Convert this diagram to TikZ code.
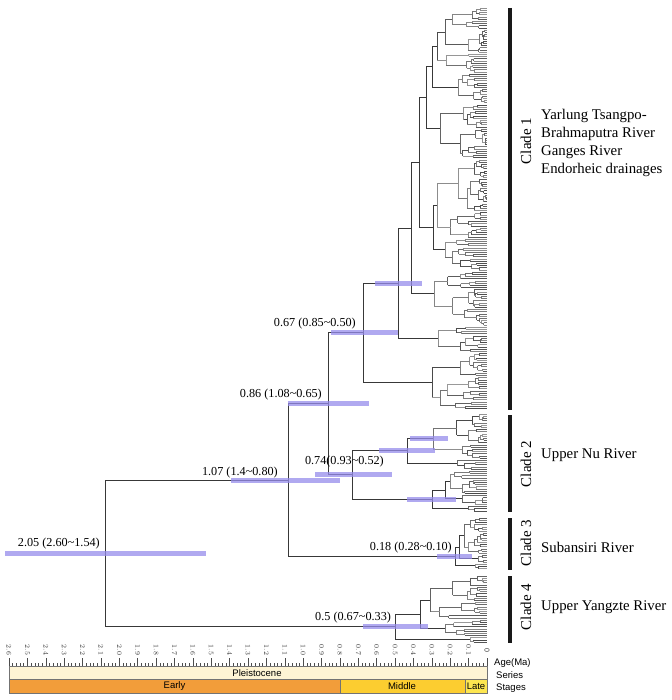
\documentclass[tikz,border=0pt]{standalone}
\usepackage{fontspec}
\setmainfont{Liberation Serif}
\newfontfamily\axfont{Liberation Sans}
\definecolor{hpdc}{RGB}{150,140,235}
\definecolor{pleist}{RGB}{254,244,212}
\definecolor{earlyc}{RGB}{242,157,58}
\definecolor{middlec}{RGB}{252,205,48}
\definecolor{latec}{RGB}{253,230,80}
\tikzset{
  br/.style={line width=0.55pt},
  bb/.style={line width=0.9pt, black!78},
  hpd/.style={line width=5pt, hpdc, opacity=0.75},
  agelbl/.style={font=\fontsize{12.2}{14}\selectfont, inner sep=0pt},
  cladebar/.style={line width=3.6pt, black!90},
  cladelbl/.style={font=\fontsize{15}{18}\selectfont, rotate=90, inner sep=0pt},
  riverlbl/.style={font=\fontsize{14.8}{18}\selectfont, anchor=west, align=left, inner sep=0pt},
  axlbl/.style={font=\axfont\fontsize{9.5}{11}\selectfont, inner sep=0pt},
  ticklbl/.style={font=\axfont\fontsize{7}{8}\selectfont, rotate=-90, inner sep=0pt, black!80},
  tickline/.style={line width=0.45pt, black!70},
  stagebox/.style={draw=black!55, line width=0.5pt}
}
% random subtree: #1 = x of root node, #2 = y of first leaf, #3 = number of leaves
\def\gclade#1#2#3{%
  \ifnum#3<2
    \xdef\cladeY{#2}%
  \else
    \begingroup
      \edef\gcX{#1}\edef\gcT{#2}\edef\gcN{#3}%
      \pgfmathtruncatemacro\gcNA{max(1,min(\gcN-1,round(\gcN*(0.22+0.56*rnd))))}%
      \pgfmathtruncatemacro\gcNB{\gcN-\gcNA}%
      \ifnum\gcNA=1 \def\gcXA{487}\else\pgfmathsetmacro\gcXA{\gcX+(487-\gcX)*(0.1+0.5*rnd)}\fi
      \ifnum\gcNB=1 \def\gcXB{487}\else\pgfmathsetmacro\gcXB{\gcX+(487-\gcX)*(0.1+0.5*rnd)}\fi
      \pgfmathsetmacro\gcTB{\gcT+\gcNA*2.2}%
      \gclade{\gcXA}{\gcT}{\gcNA}\let\gcYA\cladeY
      \gclade{\gcXB}{\gcTB}{\gcNB}\let\gcYB\cladeY
      \pgfmathtruncatemacro\gcGA{40+32*rnd}%
      \pgfmathtruncatemacro\gcGB{40+32*rnd}%
      \draw[br,black!\gcGA] (\gcX,\gcYA) -- (\gcXA,\gcYA);
      \draw[br,black!\gcGB] (\gcX,\gcYB) -- (\gcXB,\gcYB);
      \draw[br,black!\gcGA] (\gcX,\gcYA) -- (\gcX,\gcYB);
      \pgfmathsetmacro\gcM{(\gcYA+\gcYB)/2}%
      \xdef\cladeY{\gcM}%
    \endgroup
  \fi}
% backbone node: #1 name, #2 x, #3 x child a, #4 y child a, #5 x child b, #6 y child b
\newcommand\bnode[6]{%
  \draw[bb] (#2,#4) -- (#3,#4) (#2,#6) -- (#5,#6) (#2,#4) -- (#2,#6);
  \pgfmathsetmacro\bnM{(#4+#6)/2}%
  \coordinate (#1) at (#2,\bnM);
  \xdef\cladeY{\bnM}}
\begin{document}
\begin{tikzpicture}[x=1pt,y=-1pt]
\useasboundingbox (0,0) rectangle (671,700);
\pgfmathsetseed{7}
% ---------- Clade 1 ----------
\gclade{437}{8}{30}\let\bUa\cladeY
\gclade{458}{74}{14}\let\bUb\cladeY
\bnode{sA}{432}{437}{\bUa}{458}{\bUb}\let\bSa\cladeY
\gclade{440}{104.8}{25}\let\bSb\cladeY
\bnode{nD}{426}{432}{\bSa}{440}{\bSb}\let\bD\cladeY
\gclade{437}{159.8}{36}\let\bUc\cladeY
\gclade{445}{239}{15}\let\bUd\cladeY
\bnode{sC}{433}{437}{\bUc}{445}{\bUd}\let\bSc\cladeY
\bnode{nC}{419}{426}{\bD}{433}{\bSc}\let\bC\cladeY
\gclade{434}{272}{25}\let\bSd\cladeY
\bnode{nB}{411}{419}{\bC}{434}{\bSd}\let\bB\cladeY
\gclade{438}{327}{12}\let\bSe\cladeY
\bnode{nA}{398}{411}{\bB}{438}{\bSe}\let\bA\cladeY
\gclade{432}{353.4}{26}\let\bSf\cladeY
\bnode{nSixSeven}{363}{398}{\bA}{432}{\bSf}\let\bK\cladeY
% ---------- Clade 2 ----------
\gclade{433}{414}{21}\let\bEu\cladeY
\gclade{457}{460.2}{5}\let\bEl\cladeY
\bnode{nE}{407}{433}{\bEu}{457}{\bEl}\let\bE\cladeY
\gclade{450}{471.2}{11}\let\bFa\cladeY
\gclade{462}{495.4}{5}\let\bFb\cladeY
\bnode{sF}{445}{450}{\bFa}{462}{\bFb}\let\bFu\cladeY
\gclade{468}{506.4}{3}\let\bFl\cladeY
\bnode{nF}{432}{445}{\bFu}{468}{\bFl}\let\bF\cladeY
\bnode{nSevenFour}{352}{407}{\bE}{432}{\bF}\let\bL\cladeY
\bnode{nEightSix}{328}{363}{\bK}{352}{\bL}\let\bP\cladeY
% ---------- Clade 3 ----------
\gclade{464}{518}{17}\let\bGa\cladeY
\gclade{478}{555.4}{4}\let\bGb\cladeY
\bnode{sG}{459}{464}{\bGa}{478}{\bGb}\let\bGu\cladeY
\gclade{475}{564.2}{3}\let\bGl\cladeY
\bnode{nOneEight}{455}{459}{\bGu}{475}{\bGl}\let\bG\cladeY
\bnode{nOneZeroSeven}{288}{328}{\bP}{455}{\bG}\let\bQ\cladeY
% ---------- Clade 4 ----------
\gclade{430}{576}{20}\let\bHa\cladeY
\gclade{445}{620}{8}\let\bHb\cladeY
\bnode{sH}{420}{430}{\bHa}{445}{\bHb}\let\bHu\cladeY
\gclade{470}{637.6}{3}\let\bHl\cladeY
\bnode{nFive}{395}{420}{\bHu}{470}{\bHl}\let\bH\cladeY
\bnode{root}{105}{288}{\bQ}{395}{\bH}\let\bR\cladeY
% ---------- HPD bars ----------
\draw[hpd] (5,\bR) -- (206,\bR);
\draw[hpd] (231,\bQ) -- (340,\bQ);
\draw[hpd] (288,\bP) -- (369,\bP);
\draw[hpd] (315,\bL) -- (392,\bL);
\draw[hpd] (331,\bK) -- (398,\bK);
\draw[hpd] (375,\bA) -- (422,\bA);
\draw[hpd] (410,\bEu) -- (448,\bEu);
\draw[hpd] (379,\bE) -- (435,\bE);
\draw[hpd] (407,\bF) -- (456,\bF);
\draw[hpd] (437,\bG) -- (472,\bG);
\draw[hpd] (363,\bH) -- (428,\bH);
% ---------- node age labels ----------
\node[agelbl,anchor=base east] (lroot) at (100,{\bR-7}) {2.05 (2.60\textasciitilde 1.54)};
\node[agelbl,anchor=base east] (l107) at (278,{\bQ-5}) {1.07 (1.4\textasciitilde 0.80)};
\node[agelbl,anchor=base east] (l086) at (322,{\bP-6}) {0.86 (1.08\textasciitilde 0.65)};
\node[agelbl,anchor=base east] (l067) at (356,{\bK-6}) {0.67 (0.85\textasciitilde 0.50)};
\node[agelbl,anchor=base east] (l074) at (384,{\bL-10}) {0.74(0.93\textasciitilde 0.52)};
\node[agelbl,anchor=base east] (l018) at (452,{\bG-6}) {0.18 (0.28\textasciitilde 0.10)};
\node[agelbl,anchor=base west] (l05) at (315,{\bH-6}) {0.5 (0.67\textasciitilde 0.33)};
% ---------- clade bars and labels ----------
\coordinate (c1t) at (510,8);   \coordinate (c1b) at (510,410);
\coordinate (c2t) at (510,415); \coordinate (c2b) at (510,512);
\coordinate (c3t) at (510,518); \coordinate (c3b) at (510,570);
\coordinate (c4t) at (510,576); \coordinate (c4b) at (510,643);
\draw[cladebar] (c1t) -- (c1b);
\draw[cladebar] (c2t) -- (c2b);
\draw[cladebar] (c3t) -- (c3b);
\draw[cladebar] (c4t) -- (c4b);
\node[cladelbl] (cl1) at (526,141) {Clade 1};
\node[cladelbl] (cl2) at (526,464) {Clade 2};
\node[cladelbl] (cl3) at (526,543) {Clade 3};
\node[cladelbl] (cl4) at (526,607) {Clade 4};
\node[riverlbl] (rv1) at (541,143) {Yarlung Tsangpo-\\Brahmaputra River\\Ganges River\\Endorheic drainages};
\node[riverlbl] (rv2) at (541,455) {Upper Nu River};
\node[riverlbl] (rv3) at (541,547) {Subansiri River};
\node[riverlbl] (rv4) at (541,607) {Upper Yangzte River};
% ---------- time axis ----------
\draw[tickline] (9,666) -- (487,666);
\foreach \i in {0,...,130} {
  \pgfmathsetmacro\tx{487-\i*3.677}
  \pgfmathtruncatemacro\tm{mod(\i,5)}
  \ifnum\tm=0 \draw[tickline] (\tx,666) -- (\tx,658); \else \draw[tickline] (\tx,666) -- (\tx,662.5); \fi
}
\foreach \i in {1,...,26} {
  \pgfmathsetmacro\tx{487-\i*18.385}
  \pgfmathsetmacro\tl{\i/10}
  \node[ticklbl] (t\i) at (\tx,650) {\pgfmathprintnumber[fixed,fixed zerofill,precision=1]{\tl}};
}
\node[ticklbl] (t0) at (487,650) {0};
\draw[stagebox, fill=pleist] (9,666.5) rectangle (487,679.5);
\draw[stagebox, fill=earlyc] (9,679.5) rectangle (340,693);
\draw[stagebox, fill=middlec] (340,679.5) rectangle (465,693);
\draw[stagebox, fill=latec] (465,679.5) rectangle (487,693);
\node[axlbl] (ser) at (257,673.3) {Pleistocene};
\node[axlbl] (ste) at (174.5,686.5) {Early};
\node[axlbl] (stm) at (402,686.5) {Middle};
\node[axlbl] (stl) at (476,686.5) {Late};
\node[axlbl,anchor=west] (aglab) at (494,663) {Age(Ma)};
\node[axlbl,anchor=west] (serlab) at (496,675.5) {Series};
\node[axlbl,anchor=west] (stglab) at (496,688) {Stages};
\end{tikzpicture}
\end{document}
